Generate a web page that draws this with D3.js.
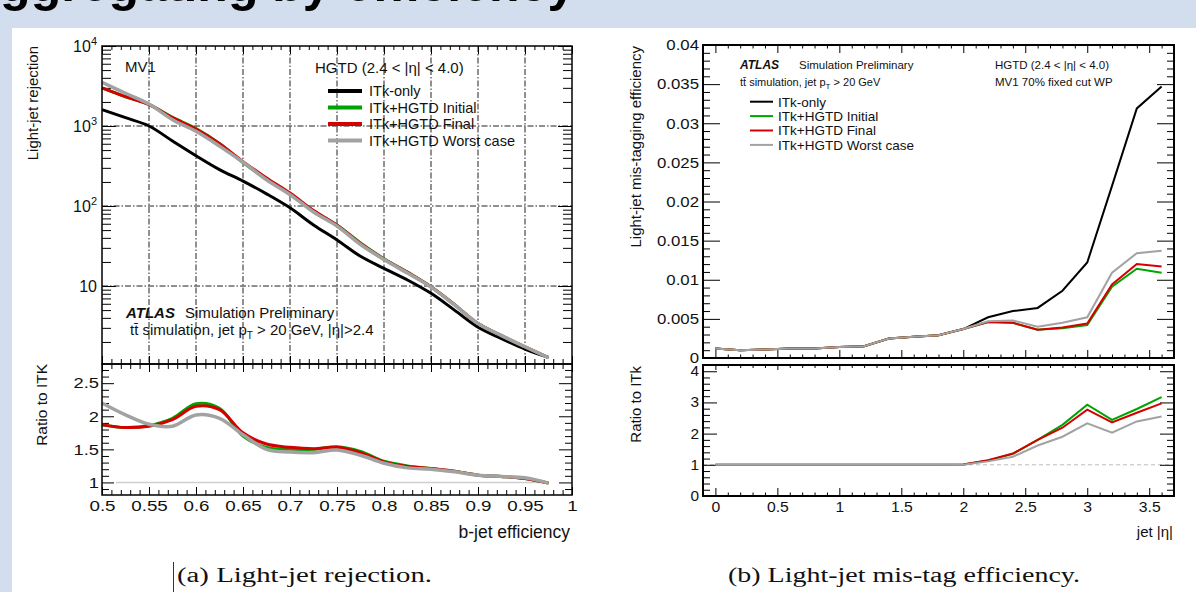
<html>
<head>
<style>
body { margin: 0; }
text { font-family: "Liberation Sans", Arial, sans-serif; fill: #111; }
</style>
</head>
<body>
<svg id="fig"></svg>
<script src="https://cdnjs.cloudflare.com/ajax/libs/d3/7.8.5/d3.min.js"></script>
<script>

// ---- (a) light-jet rejection vs b-jet efficiency
var effBins = [0.5, 0.525, 0.55, 0.575, 0.6, 0.625, 0.65, 0.675, 0.7, 0.725, 0.75, 0.775, 0.8, 0.825, 0.85, 0.875, 0.9, 0.925, 0.95, 0.975]
var rejItk     = [1600, 1270, 1000, 650, 425, 285, 205, 142, 95, 58, 37.6, 23.5, 16.6, 11.9, 8.1, 5.0, 3.05, 2.2, 1.63, 1.28]
var rejInitial = [2990, 2320, 1860, 1280, 930, 604, 349, 217, 142, 87, 58, 34.5, 21.9, 14.9, 9.8, 5.85, 3.39, 2.4, 1.73, 1.27]
var rejFinal   = [2990, 2325, 1850, 1270, 915, 600, 359, 224, 145, 88, 57.5, 34, 21.7, 14.8, 9.8, 5.85, 3.39, 2.4, 1.73, 1.27]
var rejWorst   = [3520, 2565, 1880, 1200, 858, 561, 353, 213, 139, 84, 56, 33, 21.4, 14.5, 9.7, 5.8, 3.39, 2.4, 1.74, 1.27]
var ratioInitial = [1.87, 1.83, 1.86, 1.97, 2.19, 2.12, 1.70, 1.53, 1.50, 1.50, 1.54, 1.47, 1.32, 1.25, 1.21, 1.17, 1.11, 1.09, 1.06, 0.99]
var ratioFinal   = [1.87, 1.83, 1.85, 1.95, 2.15, 2.10, 1.75, 1.58, 1.53, 1.51, 1.53, 1.45, 1.31, 1.24, 1.21, 1.17, 1.11, 1.09, 1.06, 0.99]
var ratioWorst   = [2.20, 2.02, 1.88, 1.85, 2.02, 1.97, 1.72, 1.50, 1.46, 1.45, 1.49, 1.41, 1.29, 1.22, 1.20, 1.16, 1.11, 1.09, 1.07, 0.99]
var effTicks = [0.5, 0.55, 0.6, 0.65, 0.7, 0.75, 0.8, 0.85, 0.9, 0.95, 1]
var rejTicks = [10, 100, 1000, 10000]
var ratioTicksA = [1, 1.5, 2, 2.5]

// ---- (b) light-jet mis-tag efficiency vs jet |eta|
var etaBins = [0, 0.2, 0.4, 0.6, 0.8, 1.0, 1.2, 1.4, 1.6, 1.8, 2.0, 2.2, 2.4, 2.6, 2.8, 3.0, 3.2, 3.4, 3.6]
var misItk     = [0.0012, 0.0010, 0.0011, 0.0012, 0.0012, 0.0014, 0.0015, 0.0025, 0.0027, 0.0029, 0.0037, 0.0052, 0.0060, 0.0064, 0.0086, 0.0122, 0.0220, 0.0319, 0.0347]
var misInitial = [0.0012, 0.0010, 0.0011, 0.0012, 0.0012, 0.0014, 0.0015, 0.0025, 0.0027, 0.0029, 0.0037, 0.0046, 0.0045, 0.0036, 0.0038, 0.0042, 0.0091, 0.0114, 0.0109]
var misFinal   = [0.0012, 0.0010, 0.0011, 0.0012, 0.0012, 0.0014, 0.0015, 0.0025, 0.0027, 0.0029, 0.0037, 0.0046, 0.0045, 0.0036, 0.0039, 0.0044, 0.0094, 0.0120, 0.0117]
var misWorst   = [0.0012, 0.0010, 0.0011, 0.0012, 0.0012, 0.0014, 0.0015, 0.0025, 0.0027, 0.0029, 0.0037, 0.0047, 0.0048, 0.0040, 0.0045, 0.0052, 0.0109, 0.0134, 0.0137]
var misRatioInitial = [1, 1, 1, 1, 1, 1, 1, 1, 1, 1, 1.01, 1.14, 1.35, 1.80, 2.28, 2.93, 2.44, 2.79, 3.17]
var misRatioFinal   = [1, 1, 1, 1, 1, 1, 1, 1, 1, 1, 1.01, 1.15, 1.36, 1.80, 2.19, 2.77, 2.36, 2.67, 2.97]
var misRatioWorst   = [1, 1, 1, 1, 1, 1, 1, 1, 1, 1, 1.00, 1.11, 1.26, 1.62, 1.90, 2.33, 2.03, 2.39, 2.55]
var etaTicks = [0, 0.5, 1, 1.5, 2, 2.5, 3, 3.5]
var misTicks = [0, 0.005, 0.01, 0.015, 0.02, 0.025, 0.03, 0.035, 0.04]
var ratioTicksB = [0, 1, 2, 3, 4]

var seriesNames = ["ITk-only", "ITk+HGTD Initial", "ITk+HGTD Final", "ITk+HGTD Worst case"]
var seriesColors = ["#000000", "#00a400", "#d40000", "#a2a2a2"]
var pageTitle = "Aggregating by efficiency"
var captions = ["(a) Light-jet rejection.", "(b) Light-jet mis-tag efficiency."]


var fig = d3.select("#fig").attr("width", 1196).attr("height", 592)

fig.append("rect").attr("width", 1196).attr("height", 592).attr("fill", "#d2ddee")
fig.append("rect").attr("x", 12).attr("y", 28).attr("width", 1184).attr("height", 564).attr("fill", "#fff")
// slide title, only its bottom edge is in view
fig.append("text").attr("x", -36).attr("y", 1).attr("font-size", 50).attr("font-weight", "bold")
  .style("fill", "#000").text(pageTitle)

// widen glyphs a bit, the source figure was stretched sideways
function stretch(sel, f) {
  sel.each(function() {
    var w = this.getComputedTextLength()
    d3.select(this).attr("textLength", w * f).attr("lengthAdjust", "spacingAndGlyphs")
  })
}

function addAxis(g, axis, tx, ty, size) {
  var a = g.append("g").attr("transform", "translate(" + tx + "," + ty + ")").call(axis)
  a.select(".domain").remove()
  a.attr("font-family", null).attr("font-size", size || 15)
  a.selectAll("line").attr("stroke", "#000").attr("stroke-width", 1)
  return a
}

function notMajor(step) {
  return function(v) { var k = v / step; return Math.abs(k - Math.round(k)) > 1e-6 }
}

function rotLabel(g, x, y, txt, size) {
  g.append("text").attr("transform", "translate(" + x + "," + y + ") rotate(-90)")
    .attr("text-anchor", "end").attr("font-size", size).text(txt)
}

// ================= left chart =================
var left = fig.append("g")
var xA = d3.scaleLinear().domain([0.5, 1]).range([102, 572])
var yA = d3.scaleLog().domain([1.06, 1e4]).range([364, 46])
var rA = d3.scaleLinear().domain([0.81, 2.79]).range([495, 364])

var effMinor = d3.range(0.51, 1.0, 0.01).filter(notMajor(0.05))
var logMinor = []
;[1, 10, 100, 1000].forEach(function(p) { for (var k = 2; k < 10; k++) if (k * p > 1.06) logMinor.push(k * p) })
var ratioMinorA = d3.range(0.9, 2.75, 0.1).filter(notMajor(0.5))

// dash-dot grid
left.selectAll(".gx").data(effTicks.slice(1, -1)).enter().append("line")
  .attr("x1", d => xA(d)).attr("x2", d => xA(d)).attr("y1", yA.range()[1]).attr("y2", yA.range()[0])
  .attr("stroke", "#222").attr("stroke-width", 1).attr("stroke-dasharray", "6,2,1.5,2")
left.selectAll(".gy").data(rejTicks.slice(0, -1)).enter().append("line")
  .attr("x1", xA.range()[0]).attr("x2", xA.range()[1]).attr("y1", d => yA(d)).attr("y2", d => yA(d))
  .attr("stroke", "#222").attr("stroke-width", 1).attr("stroke-dasharray", "6,2,1.5,2")

// ticks, upper pad
addAxis(left, d3.axisTop(xA).tickValues(effTicks).tickSize(-8).tickFormat(""), 0, 46)
addAxis(left, d3.axisTop(xA).tickValues(effMinor).tickSize(-4).tickFormat(""), 0, 46)
addAxis(left, d3.axisBottom(xA).tickValues(effTicks).tickSize(-8).tickFormat(""), 0, 364)
addAxis(left, d3.axisBottom(xA).tickValues(effMinor).tickSize(-5).tickFormat(""), 0, 364)
var ly = addAxis(left, d3.axisLeft(yA).tickValues(rejTicks).tickSize(-14).tickPadding(5).tickFormat(d => "10"), 102, 0, 16)
ly.selectAll("text").each(function(d) {
  if (d >= 100) d3.select(this).append("tspan").attr("dy", -7).attr("font-size", 11).text(Math.round(Math.log10(d)))
})
addAxis(left, d3.axisLeft(yA).tickValues(logMinor).tickSize(-9).tickFormat(""), 102, 0)
addAxis(left, d3.axisRight(yA).tickValues(rejTicks).tickSize(-14).tickFormat(""), 572, 0)
addAxis(left, d3.axisRight(yA).tickValues(logMinor).tickSize(-9).tickFormat(""), 572, 0)

// ticks, ratio pad
addAxis(left, d3.axisTop(xA).tickValues(effTicks).tickSize(-8).tickFormat(""), 0, 364)
addAxis(left, d3.axisTop(xA).tickValues(effMinor).tickSize(-5).tickFormat(""), 0, 364)
var lx = addAxis(left, d3.axisBottom(xA).tickValues(effTicks).tickSize(-8).tickPadding(5).tickFormat(d => String(d)), 0, 495)
stretch(lx.selectAll("text"), 1.25)
addAxis(left, d3.axisBottom(xA).tickValues(effMinor).tickSize(-5).tickFormat(""), 0, 495)
var lr = addAxis(left, d3.axisLeft(rA).tickValues(ratioTicksA).tickSize(-12).tickPadding(3).tickFormat(d => String(d)), 102, 0)
stretch(lr.selectAll("text"), 1.22)
addAxis(left, d3.axisLeft(rA).tickValues(ratioMinorA).tickSize(-7).tickFormat(""), 102, 0)
addAxis(left, d3.axisRight(rA).tickValues(ratioTicksA).tickSize(-13).tickFormat(""), 572, 0)
addAxis(left, d3.axisRight(rA).tickValues(ratioMinorA).tickSize(-7).tickFormat(""), 572, 0)

// reference line at ratio 1
left.append("line").attr("x1", xA(0.515)).attr("x2", xA(0.97)).attr("y1", rA(1)).attr("y2", rA(1))
  .attr("stroke", "#cfcfcf").attr("stroke-width", 1.5)

var lineA = d3.line().x((d, i) => xA(effBins[i])).y(d => yA(d)).curve(d3.curveCatmullRom.alpha(0.5))
;[rejItk, rejInitial, rejFinal, rejWorst].forEach(function(s, i) {
  left.append("path").attr("d", lineA(s)).attr("fill", "none")
    .attr("stroke", seriesColors[i]).attr("stroke-width", i == 3 ? 3.5 : 3)
})
var ratioLineA = d3.line().x((d, i) => xA(effBins[i])).y(d => rA(d)).curve(d3.curveCatmullRom.alpha(0.5))
;[ratioInitial, ratioFinal, ratioWorst].forEach(function(s, i) {
  left.append("path").attr("d", ratioLineA(s)).attr("fill", "none")
    .attr("stroke", seriesColors[i + 1]).attr("stroke-width", i == 2 ? 3.5 : 3)
})

left.append("rect").attr("x", 102).attr("y", 46).attr("width", 470).attr("height", 318)
  .attr("fill", "none").attr("stroke", "#000").attr("stroke-width", 1.5)
left.append("rect").attr("x", 102).attr("y", 364).attr("width", 470).attr("height", 131)
  .attr("fill", "none").attr("stroke", "#000").attr("stroke-width", 1.5)

// texts, left
left.append("text").attr("x", 125).attr("y", 72).attr("font-size", 15).text("MV1")
left.append("text").attr("x", 315).attr("y", 73).attr("font-size", 15).text("HGTD (2.4 < |η| < 4.0)")
seriesNames.forEach(function(n, i) {
  var y = 91 + i * 16.5
  left.append("line").attr("x1", 328).attr("x2", 362).attr("y1", y).attr("y2", y)
    .attr("stroke", seriesColors[i]).attr("stroke-width", 4)
  left.append("text").attr("x", 369).attr("y", y + 5).attr("font-size", 14.5).text(n)
})
var at = left.append("text").attr("x", 126).attr("y", 318).attr("font-size", 15)
at.append("tspan").attr("font-weight", "bold").attr("font-style", "italic").text("ATLAS")
at.append("tspan").attr("x", 185).text("Simulation Preliminary")
var tt = left.append("text").attr("x", 130).attr("y", 335).attr("font-size", 15)
tt.append("tspan").text("tt\u0304 simulation, jet p")
tt.append("tspan").attr("font-size", 10).attr("dy", 4).text("T")
tt.append("tspan").attr("dy", -4).text(" > 20 GeV, |η|>2.4")

rotLabel(left, 38, 46, "Light-jet rejection", 15)
rotLabel(left, 47, 364, "Ratio to ITK", 15.5)
left.append("text").attr("x", 570).attr("y", 538).attr("text-anchor", "end").attr("font-size", 17.5).text("b-jet efficiency")

// ================= right chart =================
var right = fig.append("g")
var xB = d3.scaleLinear().domain([-0.1, 3.7]).range([703, 1174])
var yB = d3.scaleLinear().domain([0, 0.04]).range([358, 45])
var rB = d3.scaleLinear().domain([0, 4.2]).range([496, 365])

var etaMinor = d3.range(-0.1, 3.71, 0.1).filter(notMajor(0.5))
var misMinor = d3.range(0.001, 0.04, 0.001).filter(notMajor(0.005))
var ratioMinorB = d3.range(0.2, 4.2, 0.2).filter(notMajor(1))

right.append("line").attr("x1", 703).attr("x2", 1174).attr("y1", rB(1)).attr("y2", rB(1))
  .attr("stroke", "#bdbdbd").attr("stroke-width", 1).attr("stroke-dasharray", "4,3")

addAxis(right, d3.axisTop(xB).tickValues(etaTicks).tickSize(-8).tickFormat(""), 0, 45)
addAxis(right, d3.axisTop(xB).tickValues(etaMinor).tickSize(-3.5).tickFormat(""), 0, 45)
addAxis(right, d3.axisBottom(xB).tickValues(etaTicks).tickSize(-8).tickFormat(""), 0, 358)
addAxis(right, d3.axisBottom(xB).tickValues(etaMinor).tickSize(-3.5).tickFormat(""), 0, 358)
var ry = addAxis(right, d3.axisLeft(yB).tickValues(misTicks).tickSize(-17).tickPadding(4).tickFormat(d => String(+d.toFixed(3))), 703, 0)
stretch(ry.selectAll("text"), 1.12)
addAxis(right, d3.axisLeft(yB).tickValues(misMinor).tickSize(-7).tickFormat(""), 703, 0)
addAxis(right, d3.axisRight(yB).tickValues(misTicks).tickSize(-17).tickFormat(""), 1174, 0)
addAxis(right, d3.axisRight(yB).tickValues(misMinor).tickSize(-7).tickFormat(""), 1174, 0)

addAxis(right, d3.axisTop(xB).tickValues(etaTicks).tickSize(-5).tickFormat(""), 0, 365)
addAxis(right, d3.axisTop(xB).tickValues(etaMinor).tickSize(-3).tickFormat(""), 0, 365)
var rx = addAxis(right, d3.axisBottom(xB).tickValues(etaTicks).tickSize(-8).tickPadding(5).tickFormat(d => String(d)), 0, 496)
stretch(rx.selectAll("text"), 1.05)
addAxis(right, d3.axisBottom(xB).tickValues(etaMinor).tickSize(-3.5).tickFormat(""), 0, 496)
var rr = addAxis(right, d3.axisLeft(rB).tickValues(ratioTicksB).tickSize(-14).tickPadding(4).tickFormat(d => String(d)), 703, 0, 14)
stretch(rr.selectAll("text"), 1.1)
addAxis(right, d3.axisLeft(rB).tickValues(ratioMinorB).tickSize(-7).tickFormat(""), 703, 0)
addAxis(right, d3.axisRight(rB).tickValues(ratioTicksB).tickSize(-14).tickFormat(""), 1174, 0)
addAxis(right, d3.axisRight(rB).tickValues(ratioMinorB).tickSize(-7).tickFormat(""), 1174, 0)

var lineB = d3.line().x((d, i) => xB(etaBins[i])).y(d => yB(d))
;[misItk, misInitial, misFinal, misWorst].forEach(function(s, i) {
  right.append("path").attr("d", lineB(s)).attr("fill", "none")
    .attr("stroke", seriesColors[i]).attr("stroke-width", 2)
})
var ratioLineB = d3.line().x((d, i) => xB(etaBins[i])).y(d => rB(d))
;[misRatioInitial, misRatioFinal, misRatioWorst].forEach(function(s, i) {
  right.append("path").attr("d", ratioLineB(s)).attr("fill", "none")
    .attr("stroke", seriesColors[i + 1]).attr("stroke-width", 2)
})

right.append("rect").attr("x", 703).attr("y", 45).attr("width", 471).attr("height", 313)
  .attr("fill", "none").attr("stroke", "#000").attr("stroke-width", 2)
right.append("rect").attr("x", 703).attr("y", 365).attr("width", 471).attr("height", 131)
  .attr("fill", "none").attr("stroke", "#000").attr("stroke-width", 2)

var bt = right.append("text").attr("x", 740).attr("y", 68.5).attr("font-size", 12)
bt.append("tspan").attr("font-weight", "bold").attr("font-style", "italic").text("ATLAS")
bt.append("tspan").attr("x", 799).attr("font-size", 11.5).text("Simulation Preliminary")
var bt2 = right.append("text").attr("x", 740).attr("y", 86).attr("font-size", 11)
bt2.append("tspan").text("tt\u0304 simulation, jet p")
bt2.append("tspan").attr("font-size", 8).attr("dy", 3).text("T")
bt2.append("tspan").attr("dy", -3).text(" > 20 GeV")
right.append("text").attr("x", 995).attr("y", 68.5).attr("font-size", 11.5).text("HGTD (2.4 < |η| < 4.0)")
right.append("text").attr("x", 995).attr("y", 86).attr("font-size", 11.5).text("MV1 70% fixed cut WP")
seriesNames.forEach(function(n, i) {
  var y = 101.7 + i * 14.4
  right.append("line").attr("x1", 750).attr("x2", 773).attr("y1", y).attr("y2", y)
    .attr("stroke", seriesColors[i]).attr("stroke-width", 2)
  right.append("text").attr("x", 778).attr("y", y + 4.8).attr("font-size", 13.5).text(n)
})

rotLabel(right, 641, 46, "Light-jet mis-tagging efficiency", 15)
rotLabel(right, 641, 366, "Ratio to ITk", 15)
right.append("text").attr("x", 1173).attr("y", 537).attr("text-anchor", "end").attr("font-size", 15).text("jet |η|")

// ================= captions =================
fig.append("line").attr("x1", 173.5).attr("x2", 173.5).attr("y1", 562).attr("y2", 592).attr("stroke", "#333").attr("stroke-width", 1)
var capX = [177, 728], capW = [255, 352]
captions.forEach(function(c, i) {
  fig.append("text").attr("x", capX[i]).attr("y", 582)
    .style("font-family", "'Liberation Serif', 'DejaVu Serif', serif").attr("font-size", 20)
    .attr("textLength", capW[i]).attr("lengthAdjust", "spacingAndGlyphs").text(c)
})

</script>
</body>
</html>
